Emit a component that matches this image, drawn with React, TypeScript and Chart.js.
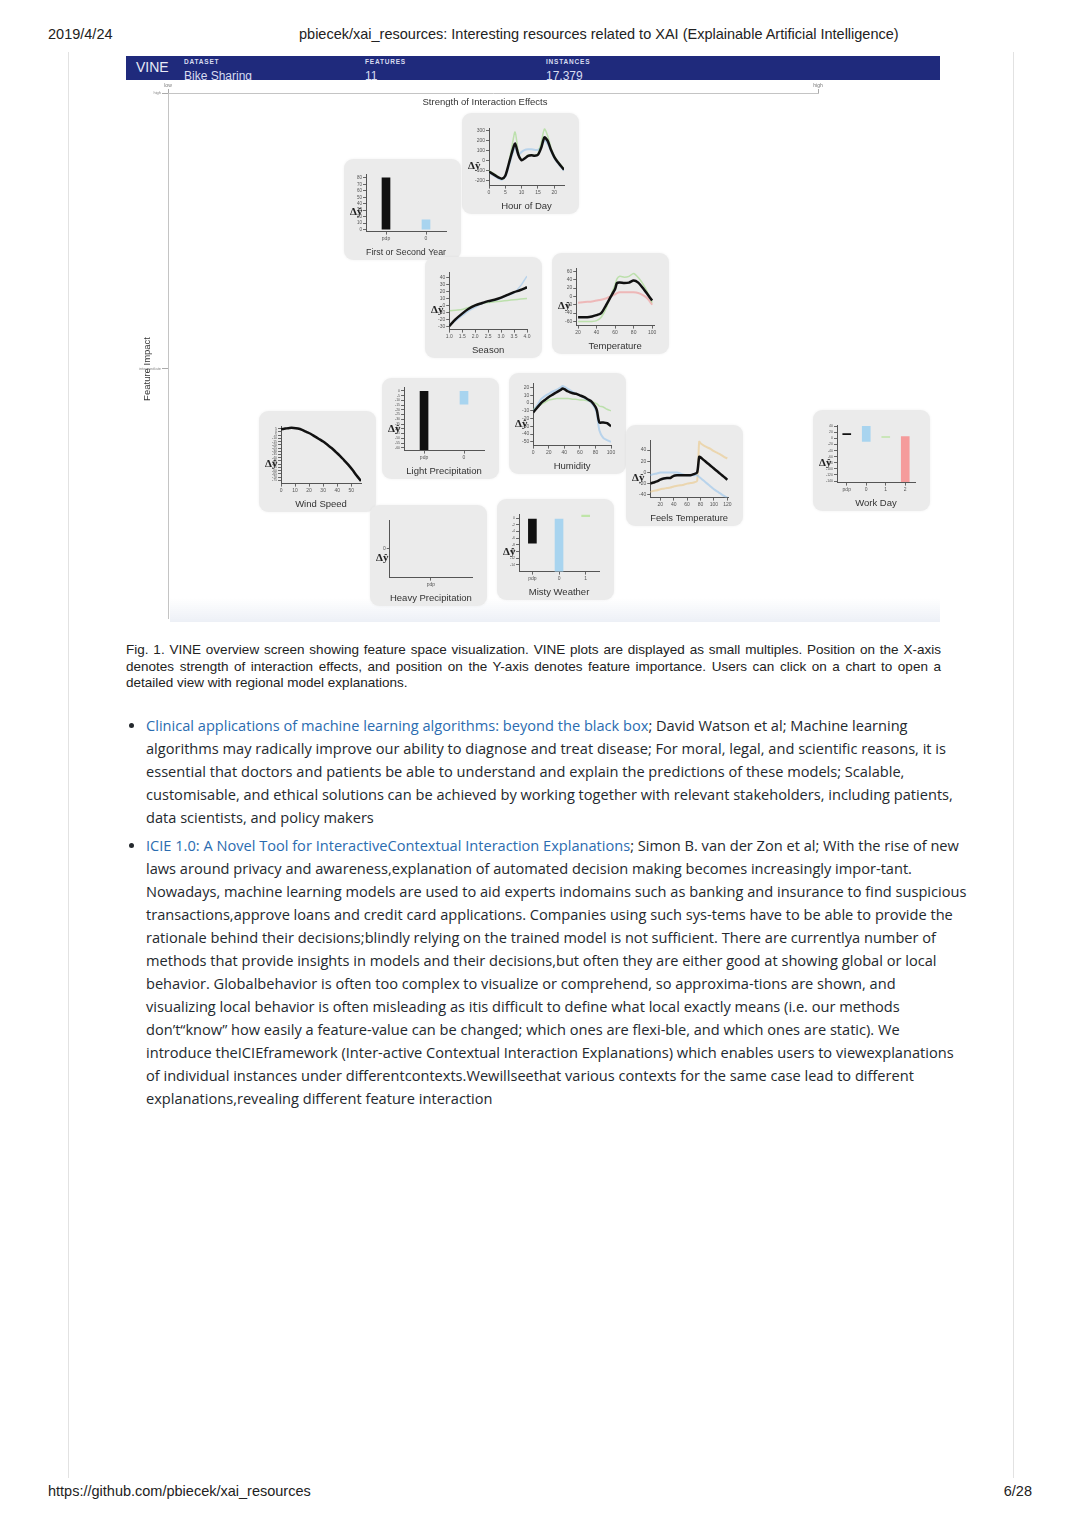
import React, { useEffect, useLayoutEffect, useRef, useState } from 'react';
import { Chart, registerables } from 'chart.js';
Chart.register(...registerables);

const FONT = '"Liberation Sans", Arial, sans-serif';
const BODY_FONT = '"Open Sans", "Noto Sans", sans-serif';
Chart.defaults.font.family = FONT;

// ---------- overview placement (x: interaction strength, y: feature impact) ----------
const features = [
  'Hour of Day', 'First or Second Year', 'Season', 'Temperature', 'Wind Speed',
  'Light Precipitation', 'Humidity', 'Feels Temperature', 'Work Day',
  'Heavy Precipitation', 'Misty Weather',
];
const interactionStrength = [54.3, 36.1, 48.5, 68.1, 23.0, 41.9, 61.5, 79.5, 108.2, 40.1, 59.6];
const featureImpact = [86.6, 77.9, 59.1, 60.0, 29.8, 36.1, 37.1, 27.3, 30.0, 12.0, 13.1];
const overviewXTicks = [0, 100];
const overviewXTickLabels = ['low', 'high'];
const overviewYTicks = [47.5, 100];
const overviewYTickLabels = ['intermediate', 'high'];
const X_TITLE = 'Strength of Interaction Effects';
const Y_TITLE = 'Feature Impact';

// ---------- Hour of Day ----------
const hourX = [0, 1, 2, 3, 4, 5, 6, 7, 8, 9, 10, 11, 12, 13, 14, 15, 16, 17, 18, 19, 20, 21, 22, 23];
const hourPdp = [-110, -130, -150, -170, -180, -150, -40, 80, 175, 60, 5, 25, 50, 55, 50, 60, 130, 235, 200, 110, 40, -10, -50, -90];
const hourGreen = [-100, -120, -140, -165, -185, -150, -30, 140, 290, 90, 10, 30, 60, 60, 55, 70, 180, 320, 250, 130, 50, 0, -40, -80];
const hourBlue = [-120, -140, -160, -180, -190, -160, -60, 50, 130, 60, 90, 110, 115, 115, 110, 110, 140, 200, 170, 100, 30, -20, -60, -100];
const hourXTicks = [0, 5, 10, 15, 20];
const hourYTicks = [-200, -100, 0, 100, 200, 300];

// ---------- Season ----------
const seasonX = [1.0, 1.25, 1.5, 1.75, 2.0, 2.25, 2.5, 2.75, 3.0, 3.25, 3.5, 3.75, 4.0];
const seasonPdp = [-30, -20, -12, -5, 0, 3, 6, 8, 11, 15, 19, 22, 26];
const seasonGreen = [-8, -7, -6, -3, 0, 3, 4, 5, 6, 7, 8, 9, 10];
const seasonBlue = [-28, -22, -15, -8, -3, 2, 5, 7, 10, 14, 18, 28, 42];
const seasonXTicks = [1.0, 1.5, 2.0, 2.5, 3.0, 3.5, 4.0];
const seasonYTicks = [-30, -20, -10, 0, 10, 20, 30, 40];

// ---------- Temperature ----------
const tempX = [20, 25, 30, 35, 40, 45, 50, 55, 60, 62, 65, 70, 75, 80, 85, 90, 95, 100];
const tempPdp = [-50, -50, -50, -48, -45, -40, -22, -2, 18, 32, 33, 32, 33, 38, 33, 20, 5, -10];
const tempGreen = [-60, -60, -60, -60, -58, -50, -30, 0, 28, 42, 48, 46, 48, 55, 45, 30, 10, -15];
const tempRed = [-15, -14, -13, -12, -10, -8, -5, 0, 5, 8, 10, 10, 10, 10, 8, 3, -5, -20];
const tempXTicks = [20, 40, 60, 80, 100];
const tempYTicks = [-60, -40, -20, 0, 20, 40, 60];

// ---------- Wind Speed ----------
const windX = [0, 3, 6, 9, 12, 15, 18, 21, 24, 27, 30, 33, 36, 39, 42, 45, 48, 51, 54, 57];
const windPdp = [4, 5, 6, 6, 5, 3, 0, -3, -7, -11, -15, -20, -25, -31, -37, -44, -51, -59, -68, -76];
const windXTicks = [0, 10, 20, 30, 40, 50];
const windYTicks = [-75, -70, -65, -60, -55, -50, -45, -40, -35, -30, -25, -20, -15, -10, -5, 0, 5];

// ---------- Humidity ----------
const humX = [0, 5, 10, 15, 20, 25, 30, 35, 38, 40, 45, 50, 55, 60, 65, 70, 75, 80, 82, 85, 90, 95, 100];
const humPdp = [-12, -6, 0, 4, 8, 11, 14, 17, 19, 18, 15, 13, 12, 10, 8, 5, 2, -5, -10, -25, -25, -26, -30];
const humBlue = [-10, -3, 5, 9, 12, 15, 17, 20, 22, 21, 18, 15, 12, 10, 7, 4, 0, -8, -15, -35, -45, -48, -50];
const humGreen = [-8, -5, -2, 1, 4, 5, 6, 6, 6, 6, 6, 5, 5, 4, 4, 3, 2, 0, -1, -4, -5, -8, -10];
const humXTicks = [0, 20, 40, 60, 80, 100];
const humYTicks = [-50, -40, -30, -20, -10, 0, 10, 20];

// ---------- Feels Temperature ----------
const feelsX = [5, 10, 15, 20, 25, 30, 35, 40, 45, 50, 55, 60, 65, 70, 75, 78, 80, 85, 90, 95, 100, 105, 110, 115, 120];
const feelsPdp = [-20, -18, -16, -13, -11, -10, -10, -6, -5, -5, -5, -5, -5, -3, 0, 28, 27, 22, 17, 12, 7, 2, -3, -8, -13];
const feelsBlue = [-5, -3, -2, 0, 0, 0, 0, 0, 0, -2, -4, -5, -5, -5, -5, -8, -10, -15, -20, -25, -30, -34, -38, -42, -45];
const feelsTan = [-35, -33, -32, -30, -29, -28, -27, -25, -24, -23, -22, -20, -19, -18, -15, 55, 52, 48, 45, 42, 38, 35, 32, 28, 25];
const feelsXTicks = [20, 40, 60, 80, 100, 120];
const feelsYTicks = [-40, -20, 0, 20, 40];

// ---------- bar features ----------
const yearCats = ['pdp', '0'];
const yearBars: [number, number][] = [[0, 80], [0, 15]];
const yearYTicks = [0, 10, 20, 30, 40, 50, 60, 70, 80];

const lightCats = ['pdp', '0'];
const lightBars: [number, number][] = [[-62, 0], [-14, 0]];
const lightYTicks = [-60, -55, -50, -45, -40, -35, -30, -25, -20, -15, -10, -5, 0];

const workCats = ['pdp', '0', '1', '2'];
const workBars: [number, number][] = [[12, 16], [-10, 40], [3, 6], [-142, 6]];
const workYTicks = [-140, -120, -100, -80, -60, -40, -20, 0, 20, 40];

const mistyCats = ['pdp', '0', '1'];
const mistyBars: [number, number][] = [[-7.5, -0.3], [-16, -0.3], [0.4, 0.9]];
const mistyYTicks = [-14, -12, -10, -8, -6, -4, -2, 0];

const heavyCats = ['pdp'];
const heavyBars: ([number, number] | null)[] = [null];
const heavyYTicks = [0];

// ---------- colours ----------
const BLACK = '#111111';
const GREEN_LINE = 'rgba(150,215,120,0.55)';
const BLUE_LINE = 'rgba(150,195,235,0.6)';
const RED_LINE = 'rgba(240,150,150,0.6)';
const TAN_LINE = 'rgba(235,205,150,0.7)';
const BLUE_BAR = '#a8d4ef';
const GREEN_BAR = '#bfe5a8';
const RED_BAR = '#f59b9b';

type LineSeries = { x: number[]; y: number[]; color: string; width: number };
type Spec = {
  name: string;
  kind: 'line' | 'bar';
  xMin?: number; xMax?: number; xTicks?: number[]; xFixed?: boolean;
  yMin: number; yMax: number; yTicks: number[];
  series?: LineSeries[];
  cats?: string[]; bars?: ([number, number] | null)[]; barColors?: string[];
  yTickSize?: number; padTop?: number;
};

const specs: Record<string, Spec> = {
  'Hour of Day': {
    name: 'Hour of Day', kind: 'line', xMin: 0, xMax: 23, xTicks: hourXTicks,
    yMin: -250, yMax: 330, yTicks: hourYTicks,
    series: [
      { x: hourX, y: hourPdp, color: BLACK, width: 2.5 },
      { x: hourX, y: hourGreen, color: GREEN_LINE, width: 1.5 },
      { x: hourX, y: hourBlue, color: BLUE_LINE, width: 2 },
    ],
  },
  'First or Second Year': {
    name: 'First or Second Year', kind: 'bar', yMin: -3, yMax: 86, yTicks: yearYTicks,
    cats: yearCats, bars: yearBars, barColors: [BLACK, BLUE_BAR], yTickSize: 4.5,
  },
  'Season': {
    name: 'Season', kind: 'line', xMin: 1, xMax: 4, xTicks: seasonXTicks, xFixed: true,
    yMin: -35, yMax: 48, yTicks: seasonYTicks,
    series: [
      { x: seasonX, y: seasonPdp, color: BLACK, width: 2.5 },
      { x: seasonX, y: seasonGreen, color: GREEN_LINE, width: 1.5 },
      { x: seasonX, y: seasonBlue, color: BLUE_LINE, width: 1.5 },
    ],
  },
  'Temperature': {
    name: 'Temperature', kind: 'line', xMin: 18, xMax: 102, xTicks: tempXTicks,
    yMin: -70, yMax: 68, yTicks: tempYTicks,
    series: [
      { x: tempX, y: tempPdp, color: BLACK, width: 2.5 },
      { x: tempX, y: tempGreen, color: GREEN_LINE, width: 1.5 },
      { x: tempX, y: tempRed, color: RED_LINE, width: 2 },
    ],
  },
  'Wind Speed': {
    name: 'Wind Speed', kind: 'line', xMin: 0, xMax: 57, xTicks: windXTicks,
    yMin: -80, yMax: 9, yTicks: windYTicks, yTickSize: 3.5,
    series: [{ x: windX, y: windPdp, color: BLACK, width: 2.5 }],
  },
  'Light Precipitation': {
    name: 'Light Precipitation', kind: 'bar', yMin: -63, yMax: 4, yTicks: lightYTicks,
    cats: lightCats, bars: lightBars, barColors: [BLACK, BLUE_BAR], yTickSize: 3.5, padTop: 8,
  },
  'Humidity': {
    name: 'Humidity', kind: 'line', xMin: 0, xMax: 100, xTicks: humXTicks,
    yMin: -55, yMax: 26, yTicks: humYTicks, padTop: 9,
    series: [
      { x: humX, y: humPdp, color: BLACK, width: 2.5 },
      { x: humX, y: humBlue, color: BLUE_LINE, width: 2 },
      { x: humX, y: humGreen, color: GREEN_LINE, width: 1.5 },
    ],
  },
  'Feels Temperature': {
    name: 'Feels Temperature', kind: 'line', xMin: 5, xMax: 121, xTicks: feelsXTicks,
    yMin: -45, yMax: 58, yTicks: feelsYTicks,
    series: [
      { x: feelsX, y: feelsPdp, color: BLACK, width: 2.5 },
      { x: feelsX, y: feelsBlue, color: BLUE_LINE, width: 2 },
      { x: feelsX, y: feelsTan, color: TAN_LINE, width: 2 },
    ],
  },
  'Work Day': {
    name: 'Work Day', kind: 'bar', yMin: -145, yMax: 44, yTicks: workYTicks,
    cats: workCats, bars: workBars, barColors: [BLACK, BLUE_BAR, GREEN_BAR, RED_BAR], yTickSize: 3.5,
  },
  'Heavy Precipitation': {
    name: 'Heavy Precipitation', kind: 'bar', yMin: -1, yMax: 1, yTicks: heavyYTicks,
    cats: heavyCats, bars: heavyBars, barColors: [BLACK],
  },
  'Misty Weather': {
    name: 'Misty Weather', kind: 'bar', yMin: -16, yMax: 1.2, yTicks: mistyYTicks,
    cats: mistyCats, bars: mistyBars, barColors: [BLACK, BLUE_BAR, GREEN_BAR], yTickSize: 3.5,
  },
};

const deltaPlugin = {
  id: 'deltaLabel',
  afterDraw(chart: any) {
    const { ctx, chartArea } = chart;
    ctx.save();
    ctx.font = 'bold 11px "Liberation Serif", "DejaVu Serif", serif';
    ctx.fillStyle = '#222';
    ctx.textAlign = 'left';
    ctx.textBaseline = 'middle';
    ctx.fillText('Δŷ', 4, chartArea.top + chartArea.height * 0.66);
    ctx.restore();
  },
};

function buildConfig(s: Spec): any {
  const axisGrid = { drawOnChartArea: false, tickLength: 3, color: '#666' };
  const y = {
    type: 'linear', min: s.yMin, max: s.yMax,
    afterBuildTicks: (sc: any) => { sc.ticks = s.yTicks.map((v) => ({ value: v })); },
    ticks: { font: { size: s.yTickSize ?? 5, family: FONT }, color: '#555', padding: 1, autoSkip: false },
    grid: axisGrid,
    border: { color: '#555' },
  };
  const title = {
    display: true, text: s.name, font: { size: 9.5, family: FONT }, color: '#333',
    padding: { top: 4, bottom: 0 },
  };
  const options: any = {
    animation: false, responsive: false, maintainAspectRatio: false,
    layout: { padding: { left: 10, right: 13, top: s.padTop ?? 14, bottom: 1 } },
    plugins: { legend: { display: false }, tooltip: { enabled: false } },
  };
  if (s.kind === 'line') {
    options.scales = {
      x: {
        type: 'linear', min: s.xMin, max: s.xMax,
        afterBuildTicks: (sc: any) => { sc.ticks = (s.xTicks || []).map((v) => ({ value: v })); },
        ticks: {
          font: { size: 5, family: FONT }, color: '#555', padding: 1, maxRotation: 0, autoSkip: false,
          callback: (v: any) => (s.xFixed ? Number(v).toFixed(1) : String(v)),
        },
        grid: axisGrid, border: { color: '#555' }, title,
      },
      y,
    };
    return {
      type: 'line',
      data: {
        datasets: (s.series || []).map((ser) => ({
          data: ser.x.map((xv, i) => ({ x: xv, y: ser.y[i] })),
          borderColor: ser.color, borderWidth: ser.width, pointRadius: 0, tension: 0.25, fill: false,
        })),
      },
      options,
      plugins: [deltaPlugin],
    };
  }
  options.scales = {
    x: {
      type: 'category', offset: true,
      ticks: { font: { size: 5, family: FONT }, color: '#555', padding: 1, maxRotation: 0, autoSkip: false },
      grid: { ...axisGrid, offset: false }, border: { color: '#555' }, title,
    },
    y,
  };
  return {
    type: 'bar',
    data: {
      labels: s.cats,
      datasets: [{
        data: s.bars, backgroundColor: s.barColors, barThickness: 8, borderSkipped: false, borderWidth: 0,
      }],
    },
    options,
    plugins: [deltaPlugin],
  };
}

const CARD_W = 117;
const CARD_H = 101;

function Card({ spec, left, top }: { spec: Spec; left: number; top: number }) {
  const ref = useRef<HTMLCanvasElement>(null);
  useEffect(() => {
    const c = new Chart(ref.current as HTMLCanvasElement, buildConfig(spec));
    return () => c.destroy();
  }, [spec]);
  return (
    <div style={{
      position: 'absolute', left, top, width: CARD_W, height: CARD_H, background: '#ebebeb',
      borderRadius: 9, boxShadow: '0 0 3px rgba(0,0,0,0.06)',
    }}>
      <canvas ref={ref} width={113} height={99}
        style={{ position: 'absolute', left: 2, top: 1, width: 113, height: 99 }} />
    </div>
  );
}

const MAIN_LEFT = 126;
const MAIN_TOP = 80;
const MAIN_W = 814;
const MAIN_H = 542;

const overviewTitlesPlugin = {
  id: 'overviewTitles',
  afterDraw(chart: any) {
    const { ctx, chartArea } = chart;
    const ys = chart.scales.y;
    ctx.save();
    ctx.font = `9.5px ${FONT}`;
    ctx.fillStyle = '#333';
    ctx.textAlign = 'center';
    ctx.textBaseline = 'middle';
    ctx.fillText(X_TITLE, (chartArea.left + chartArea.right) / 2 - 8, chartArea.top + 9);
    ctx.translate(21, ys.getPixelForValue(overviewYTicks[0]));
    ctx.rotate(-Math.PI / 2);
    ctx.fillText(Y_TITLE, 0, 0);
    ctx.restore();
  },
};

function Overview() {
  const ref = useRef<HTMLCanvasElement>(null);
  const [pos, setPos] = useState<{ x: number; y: number }[] | null>(null);
  useEffect(() => {
    const chart = new Chart(ref.current as HTMLCanvasElement, {
      type: 'scatter',
      data: {
        datasets: [{
          data: features.map((_, i) => ({ x: interactionStrength[i], y: featureImpact[i] })),
          pointRadius: 0,
        }],
      },
      options: {
        animation: false, responsive: false, maintainAspectRatio: false,
        layout: { padding: { left: 0, right: 122, top: 0, bottom: 2 } },
        plugins: { legend: { display: false }, tooltip: { enabled: false } },
        scales: {
          x: {
            type: 'linear', position: 'top', min: 0, max: 100,
            afterBuildTicks: (s: any) => { s.ticks = overviewXTicks.map((v) => ({ value: v })); },
            afterFit: (s: any) => { s.height = 13; },
            ticks: {
              callback: (v: any) => overviewXTickLabels[overviewXTicks.indexOf(Number(v))],
              font: { size: 5, family: FONT }, color: '#777', padding: 0, maxRotation: 0, autoSkip: false,
            },
            grid: { drawOnChartArea: false, tickLength: 4, color: '#aaa' },
            border: { color: '#c4c4c4' },
          },
          y: {
            type: 'linear', min: 0, max: 100,
            afterBuildTicks: (s: any) => { s.ticks = overviewYTicks.map((v) => ({ value: v })); },
            afterFit: (s: any) => { s.width = 42; },
            ticks: {
              callback: (v: any) => overviewYTickLabels[overviewYTicks.indexOf(Number(v))],
              font: { size: 4, family: FONT }, color: '#888', padding: 1, autoSkip: false,
            },
            grid: { drawOnChartArea: false, tickLength: 6, color: '#aaa' },
            border: { color: '#c4c4c4' },
          },
        },
      } as any,
      plugins: [overviewTitlesPlugin],
    });
    const xs: any = chart.scales.x;
    const ys: any = chart.scales.y;
    setPos(features.map((_, i) => ({
      x: xs.getPixelForValue(interactionStrength[i]),
      y: ys.getPixelForValue(featureImpact[i]),
    })));
    return () => chart.destroy();
  }, []);
  return (
    <>
      <canvas ref={ref} width={MAIN_W} height={MAIN_H}
        style={{ position: 'absolute', left: MAIN_LEFT, top: MAIN_TOP, width: MAIN_W, height: MAIN_H }} />
      <div style={{
        position: 'absolute', left: 170, top: 598, width: 770, height: 24,
        background: 'linear-gradient(to bottom, rgba(255,255,255,0), rgba(232,236,244,0.8))',
      }} />
      {pos && features.map((f, i) => (
        <Card key={f} spec={specs[f]}
          left={Math.round(MAIN_LEFT + pos[i].x - CARD_W / 2)}
          top={Math.round(MAIN_TOP + pos[i].y - CARD_H / 2)} />
      ))}
    </>
  );
}

const captionLines = [
  'Fig. 1. VINE overview screen showing feature space visualization. VINE plots are displayed as small multiples. Position on the X-axis',
  'denotes strength of interaction effects, and position on the Y-axis denotes feature importance. Users can click on a chart to open a',
  'detailed view with regional model explanations.',
];

const CAPTION_W = 815;
const CAPTION_SIZE = 13.5;

function Caption() {
  const measure = useRef<HTMLSpanElement>(null);
  const [scale, setScale] = useState(1);
  useLayoutEffect(() => {
    const w = measure.current ? measure.current.getBoundingClientRect().width : CAPTION_W;
    if (w > 0) setScale(Math.min(1, CAPTION_W / w));
  }, []);
  return (
    <>
      <span ref={measure} style={{
        position: 'absolute', left: 0, top: 0, visibility: 'hidden', whiteSpace: 'nowrap',
        fontSize: CAPTION_SIZE, fontFamily: FONT,
      }}>{captionLines[0]}</span>
      {captionLines.map((l, i) => (
        <div key={i} style={{
          position: 'absolute', left: 126, top: 642 + i * 16.5, width: CAPTION_W / scale,
          fontSize: CAPTION_SIZE, lineHeight: '16.5px', color: '#222', whiteSpace: 'nowrap',
          textAlign: 'justify', textAlignLast: i < 2 ? 'justify' : 'left',
          transform: `scaleX(${scale})`, transformOrigin: 'left top',
        }}>{l}</div>
      ))}
    </>
  );
}

const bullet1Link = 'Clinical applications of machine learning algorithms: beyond the black box';
const bullet1Lines = [
  '; David Watson et al; Machine learning',
  'algorithms may radically improve our ability to diagnose and treat disease; For moral, legal, and scientific reasons, it is',
  'essential that doctors and patients be able to understand and explain the predictions of these models; Scalable,',
  'customisable, and ethical solutions can be achieved by working together with relevant stakeholders, including patients,',
  'data scientists, and policy makers',
];
const bullet2Link = 'ICIE 1.0: A Novel Tool for InteractiveContextual Interaction Explanations';
const bullet2Lines = [
  '; Simon B. van der Zon et al; With the rise of new',
  'laws around privacy and awareness,explanation of automated decision making becomes increasingly impor-tant.',
  'Nowadays, machine learning models are used to aid experts indomains such as banking and insurance to find suspicious',
  'transactions,approve loans and credit card applications. Companies using such sys-tems have to be able to provide the',
  'rationale behind their decisions;blindly relying on the trained model is not sufficient. There are currentlya number of',
  'methods that provide insights in models and their decisions,but often they are either good at showing global or local',
  'behavior. Globalbehavior is often too complex to visualize or comprehend, so approxima-tions are shown, and',
  'visualizing local behavior is often misleading as itis difficult to define what local exactly means (i.e. our methods',
  'don’t“know” how easily a feature-value can be changed; which ones are flexi-ble, and which ones are static). We',
  'introduce theICIEframework (Inter-active Contextual Interaction Explanations) which enables users to viewexplanations',
  'of individual instances under differentcontexts.Wewillseethat various contexts for the same case lead to different',
  'explanations,revealing different feature interaction',
];

const LINK = '#2b6cb0';
const TEXT = '#24292e';

function Bullet({ top, link, lines }: { top: number; link: string; lines: string[] }) {
  return (
    <>
      <div style={{
        position: 'absolute', left: 129, top: top + 9, width: 5, height: 5, borderRadius: 3, background: TEXT,
      }} />
      {lines.map((l, i) => (
        <div key={i} style={{
          position: 'absolute', left: 146, top: top + i * 23, whiteSpace: 'nowrap',
          fontFamily: BODY_FONT, fontSize: 14.6, lineHeight: '23px', color: TEXT,
        }}>
          {i === 0 && <span style={{ color: LINK }}>{link}</span>}
          {l}
        </div>
      ))}
    </>
  );
}

const PRINT_SIZE = 14.5;

export default function App() {
  return (
    <div style={{
      position: 'absolute', left: 0, top: 0, width: 1080, height: 1528, background: '#fff',
      overflow: 'hidden', fontFamily: FONT,
    }}>
      {/* print header */}
      <div style={{ position: 'absolute', left: 48, top: 26, fontSize: PRINT_SIZE, color: '#222' }}>2019/4/24</div>
      <div style={{ position: 'absolute', left: 299, top: 26, fontSize: PRINT_SIZE, color: '#222', whiteSpace: 'nowrap' }}>
        pbiecek/xai_resources: Interesting resources related to XAI (Explainable Artificial Intelligence)
      </div>
      {/* page frame */}
      <div style={{ position: 'absolute', left: 68, top: 52, width: 1, height: 1426, background: '#e2e2e2' }} />
      <div style={{ position: 'absolute', left: 1013, top: 52, width: 1, height: 1426, background: '#e2e2e2' }} />

      {/* VINE bar */}
      <div style={{
        position: 'absolute', left: 126, top: 56, width: 814, height: 24, background: '#1f2a7c',
        overflow: 'hidden', color: '#d8dcf0',
      }}>
        <div style={{ position: 'absolute', left: 10, top: 3, fontSize: 14, color: '#e8eaf6' }}>VINE</div>
        {[['DATASET', 'Bike Sharing', 58], ['FEATURES', '11', 239], ['INSTANCES', '17,379', 420]].map(([k, v, x]) => (
          <React.Fragment key={k as string}>
            <div style={{ position: 'absolute', left: x as number, top: 2, fontSize: 6.5, fontWeight: 'bold', letterSpacing: 0.8 }}>{k}</div>
            <div style={{ position: 'absolute', left: x as number, top: 13, fontSize: 12 }}>{v}</div>
          </React.Fragment>
        ))}
      </div>

      <Overview />

      <Caption />

      <Bullet top={714} link={bullet1Link} lines={bullet1Lines} />
      <Bullet top={834} link={bullet2Link} lines={bullet2Lines} />

      {/* print footer */}
      <div style={{ position: 'absolute', left: 48, top: 1483, fontSize: PRINT_SIZE, color: '#222' }}>https://github.com/pbiecek/xai_resources</div>
      <div style={{ position: 'absolute', right: 48, top: 1483, fontSize: PRINT_SIZE, color: '#222' }}>6/28</div>
    </div>
  );
}
